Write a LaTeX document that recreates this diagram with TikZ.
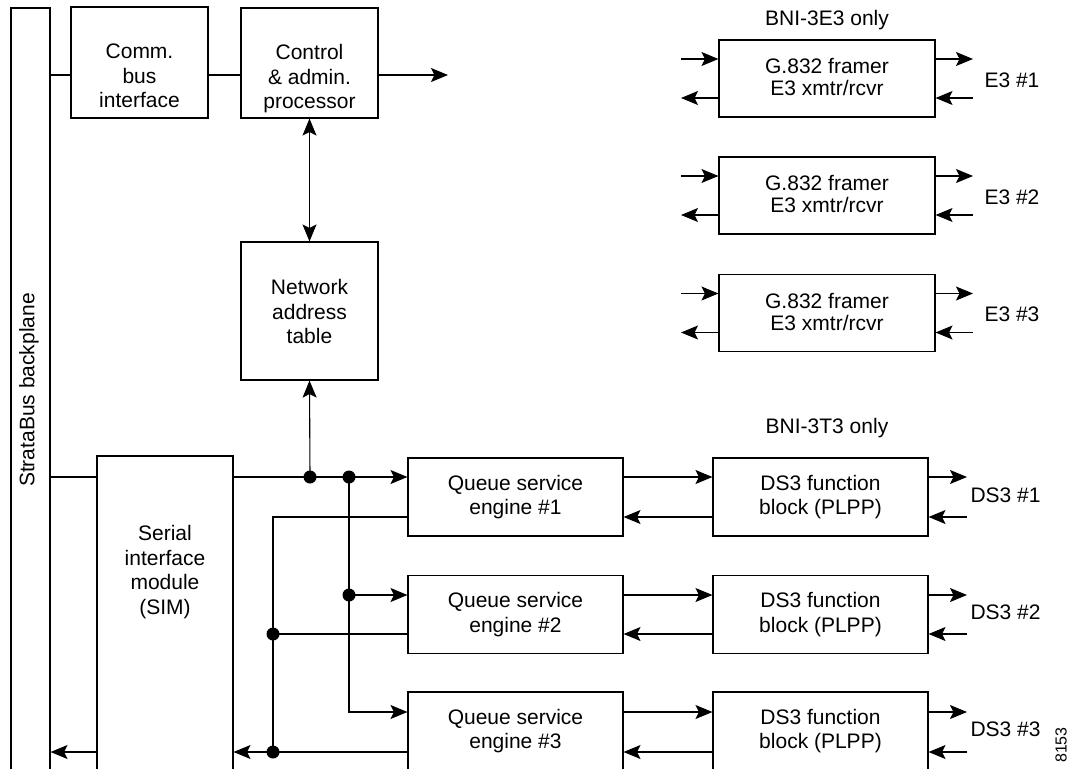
\documentclass[tikz,border=0pt]{standalone}
\usepackage{fontspec}
\setmainfont{Liberation Sans}
\usetikzlibrary{arrows.meta}
\begin{document}
\begin{tikzpicture}[x=1pt,y=-1pt,
  line width=1.1pt,
  >={Stealth[length=17pt,width=14pt,inset=3.5pt]},
  blk/.style={draw,rectangle,inner sep=0pt,line width=1.1pt},
  txt/.style={inner sep=0pt,align=center,font=\fontsize{21}{24.5}\selectfont},
  dot/.style={circle,fill=black,inner sep=0pt,minimum size=13pt}]
\useasboundingbox (0,0) rectangle (1070,768);
% blocks
\node[blk,minimum width=39pt,minimum height=782pt] (bp) at (30.5,399) {};
\node[txt,rotate=90] (bplab) at (29,390) {StrataBus backplane};
\node[blk,minimum width=137pt,minimum height=111pt] (comm) at (139.5,62.5) {};
\node[txt] (commt) at (139.5,76) {Comm.\\bus\\interface};
\node[blk,minimum width=137pt,minimum height=110pt] (ctrl) at (309.5,63) {};
\node[txt] (ctrlt) at (309.5,79) {Control\\\& admin.\\processor};
\node[blk,minimum width=137pt,minimum height=138pt] (nat) at (309.5,311) {};
\node[txt] (natt) at (309.5,311.5) {Network\\address\\table};
\node[blk,minimum width=136pt,minimum height=334pt] (sim) at (165,623) {};
\node[txt] (simt) at (165,572) {Serial\\interface\\module\\(SIM)};
% queue engines and DS3 blocks
\foreach \i/\y in {1/497,2/614.5,3/731}{
  \node[blk,minimum width=215pt,minimum height=78pt] (q\i) at (515.5,\y) {};
  \node[txt] (qt\i) at (515.5,\y) {Queue service\\engine \#\i};
  \node[blk,minimum width=215pt,minimum height=78pt] (d\i) at (820.5,\y) {};
  \node[txt] (dt\i) at (820.5,\y) {DS3 function\\block (PLPP)};
  \node[txt,anchor=west] (dl\i) at (970,\y-2) {DS3 \#\i};
}
% E3 blocks
\foreach \i/\y in {1/78.5,2/195.5,3/313}{
  \node[blk,minimum width=216pt,minimum height=77pt] (e\i) at (827,\y) {};
  \node[txt,font=\fontsize{21}{22}\selectfont] (et\i) at (827,\y-1) {G.832 framer\\E3 xmtr/rcvr};
  \node[txt,anchor=west] (el\i) at (984,\y+1.5) {E3 \#\i};
  \coordinate (ea\i) at (681,\y-19.5);
  \coordinate (eb\i) at (681,\y+19.5);
  \coordinate (ec\i) at (973,\y-19.5);
  \coordinate (ed\i) at (973,\y+19.5);
  \draw[->] (ea\i) -- (e\i.west |- ea\i);
  \draw[->] (e\i.west |- eb\i) -- (eb\i);
  \draw[->] (e\i.east |- ec\i) -- (ec\i);
  \draw[->] (ed\i) -- (e\i.east |- ed\i);
}
\node[txt] (bni1) at (827,20) {BNI-3E3 only};
\node[txt] (bni2) at (827,428) {BNI-3T3 only};
\node[inner sep=0pt,rotate=90,font=\fontsize{16}{18}\selectfont] (num) at (1061,745) {8153};
% top connections
\coordinate (ytop) at (0,75);
\coordinate (ctrlout) at (448,75);
\draw (bp.east |- ytop) -- (comm.west |- ytop);
\draw (comm.east |- ytop) -- (ctrl.west |- ytop);
\draw[->] (ctrl.east |- ytop) -- (ctrlout);
\draw[<->] (ctrl.south) -- (nat.north);
% row coordinates
\coordinate (f1) at (0,477); \coordinate (r1) at (0,517);
\coordinate (f2) at (0,595); \coordinate (r2) at (0,634);
\coordinate (f3) at (0,712); \coordinate (r3) at (0,752);
% forward distribution
\node[dot] (j1) at (310,477) {};
\node[dot] (j2) at (349,477) {};
\node[dot] (j3) at (349,595) {};
\draw (bp.east |- f1) -- (sim.west |- f1);
\draw[->] (sim.east |- f1) -- (q1.west |- f1);
\draw[->] (j1.center) -- (nat.south);
\draw[->] (j2.center) |- (q3.west |- f3);
\draw[->] (j3.center) -- (q2.west |- f2);
% return path
\node[dot] (j4) at (273,634) {};
\node[dot] (j5) at (273,752) {};
\draw (q1.west |- r1) -| (j5.center);
\draw (q2.west |- r2) -- (j4.center);
\draw (q3.west |- r3) -- (j5.center);
\draw[->] (j5.center) -- (sim.east |- r3);
\draw[->] (sim.west |- r3) -- (bp.east |- r3);
% queue <-> DS3 and DS3 lines
\foreach \i in {1,2,3}{
  \draw[->] (q\i.east |- f\i) -- (d\i.west |- f\i);
  \draw[->] (d\i.west |- r\i) -- (q\i.east |- r\i);
  \coordinate (do\i) at (967,0);
  \draw[->] (d\i.east |- f\i) -- (do\i |- f\i);
  \draw[->] (do\i |- r\i) -- (d\i.east |- r\i);
}
\end{tikzpicture}
\end{document}
